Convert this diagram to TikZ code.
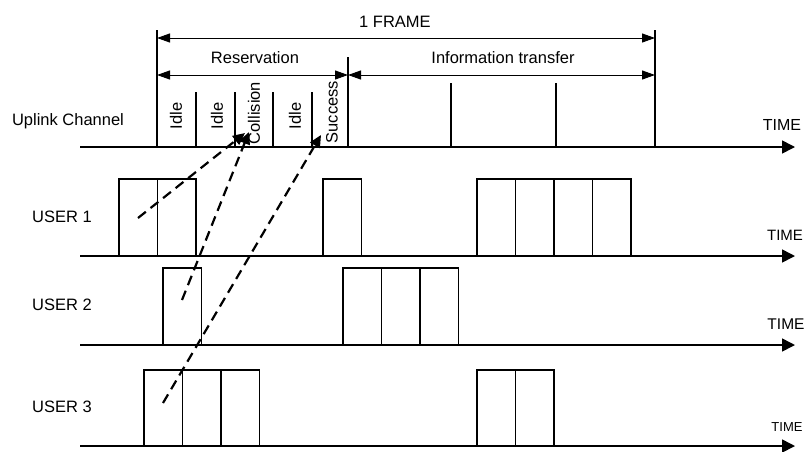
\documentclass[tikz,border=0pt]{standalone}
\usepackage{fontspec}
\setmainfont{Liberation Sans}
\usetikzlibrary{arrows.meta}
\begin{document}
\begin{tikzpicture}[x=1pt,y=-1pt,
 lbl/.style={font=\fontsize{16.5}{19}\selectfont, inner sep=0pt},
 timelbl/.style={font=\fontsize{15.5}{18}\selectfont, inner sep=0pt},
 axisline/.style={line width=1.6pt, -{Triangle[length=13pt,width=13pt]}},
 dimline/.style={line width=1pt, {Triangle[length=13pt,width=9pt]}-{Triangle[length=13pt,width=9pt]}},
 tickline/.style={line width=1.3pt},
 slotbox/.style={draw, line width=1.3pt, minimum width=38.5pt, minimum height=77pt, inner sep=0pt, outer sep=0pt, anchor=south west},
 reqline/.style={line width=2.2pt, dash pattern=on 10pt off 6pt, -{Triangle[length=12pt,width=11pt]}},
 vlbl/.style={font=\fontsize{16.5}{19}\selectfont, inner sep=0pt, rotate=90}
]
\fill[white] (0,0) rectangle (808,451);
\useasboundingbox (0,0) rectangle (808,451);

% ---------- Uplink channel ----------
\node[lbl] (uplink) at (68,121) {Uplink Channel};
\coordinate (up0) at (80,147);
\coordinate (up1) at (795,147);
\draw[axisline] (up0) -- (up1);
\node[timelbl, font=\fontsize{16}{18}\selectfont] (tup) at (782,125) {TIME};

% frame boundaries
\coordinate (fs) at (157,30);  \coordinate (fsb) at (157,147);
\coordinate (fe) at (655,30);  \coordinate (feb) at (655,147);
\coordinate (re) at (348,57);  \coordinate (reb) at (348,147);
\draw[tickline] (fs) -- (fsb);
\draw[tickline] (fe) -- (feb);
\draw[tickline] (re) -- (reb);
% reservation slots
\foreach \x in {196,235,273,312} \draw[tickline] (\x,92) -- (\x,147);
% information slots
\foreach \x in {451,556} \draw[tickline] (\x,83) -- (\x,147);

% dimension arrows
\coordinate (f1) at (157,38); \coordinate (f2) at (655,38);
\draw[dimline] (f1) -- (f2);
\node[lbl] (frame) at (395,22) {1 FRAME};
\coordinate (r1) at (157,75); \coordinate (r2) at (348,75); \coordinate (r3) at (655,75);
\draw[dimline] (r1) -- (r2);
\draw[dimline] (r2) -- (r3);
\node[lbl] (resv) at (255,58) {Reservation};
\node[lbl] (info) at (503,58) {Information transfer};

% slot labels
\node[vlbl] (s1) at (176,116) {Idle};
\node[vlbl] (s2) at (217,116) {Idle};
\node[vlbl] (s3) at (254,113) {Collision};
\node[vlbl] (s4) at (295,116) {Idle};
\node[vlbl] (s5) at (332,112) {Success};

% ---------- USER 1 ----------
\node[lbl] (user1) at (62,217) {USER 1};
\coordinate (a10) at (80,256); \coordinate (a11) at (795,256);
\draw[axisline] (a10) -- (a11);
\node[timelbl, font=\fontsize{15}{18}\selectfont] (t1) at (785,235) {TIME};
\node[slotbox] (u1a) at (119,256) {};
\node[slotbox] (u1b) at (u1a.south east) {};
\node[slotbox] (u1c) at (323,256) {};
\node[slotbox] (u1d) at (477,256) {};
\node[slotbox] (u1e) at (u1d.south east) {};
\node[slotbox] (u1f) at (u1e.south east) {};
\node[slotbox] (u1g) at (u1f.south east) {};

% ---------- USER 2 ----------
\node[lbl] (user2) at (62,305) {USER 2};
\coordinate (a20) at (80,345); \coordinate (a21) at (795,345);
\draw[axisline] (a20) -- (a21);
\node[timelbl] (t2) at (786,324) {TIME};
\node[slotbox] (u2a) at (163,345) {};
\node[slotbox] (u2b) at (343,345) {};
\node[slotbox] (u2c) at (u2b.south east) {};
\node[slotbox] (u2d) at (u2c.south east) {};

% ---------- USER 3 ----------
\node[lbl] (user3) at (62,407) {USER 3};
\coordinate (a30) at (80,446); \coordinate (a31) at (795,446);
\draw[axisline] (a30) -- (a31);
\node[timelbl, font=\fontsize{13}{15}\selectfont] (t3) at (787,427) {TIME};
\node[slotbox, minimum height=76pt] (u3a) at (144,446) {};
\node[slotbox, minimum height=76pt] (u3b) at (u3a.south east) {};
\node[slotbox, minimum height=76pt] (u3c) at (u3b.south east) {};
\node[slotbox, minimum height=76pt] (u3d) at (477,446) {};
\node[slotbox, minimum height=76pt] (u3e) at (u3d.south east) {};

% ---------- reservation requests ----------
\coordinate (q1) at (138,218); \coordinate (c1) at (245,133);
\coordinate (q2) at (182,300); \coordinate (c2) at (249,132);
\coordinate (q3) at (163,403); \coordinate (c3) at (321,135);
\draw[reqline] (q1) -- (c1);
\draw[reqline] (q2) -- (c2);
\draw[reqline] (q3) -- (c3);
\end{tikzpicture}
\end{document}
